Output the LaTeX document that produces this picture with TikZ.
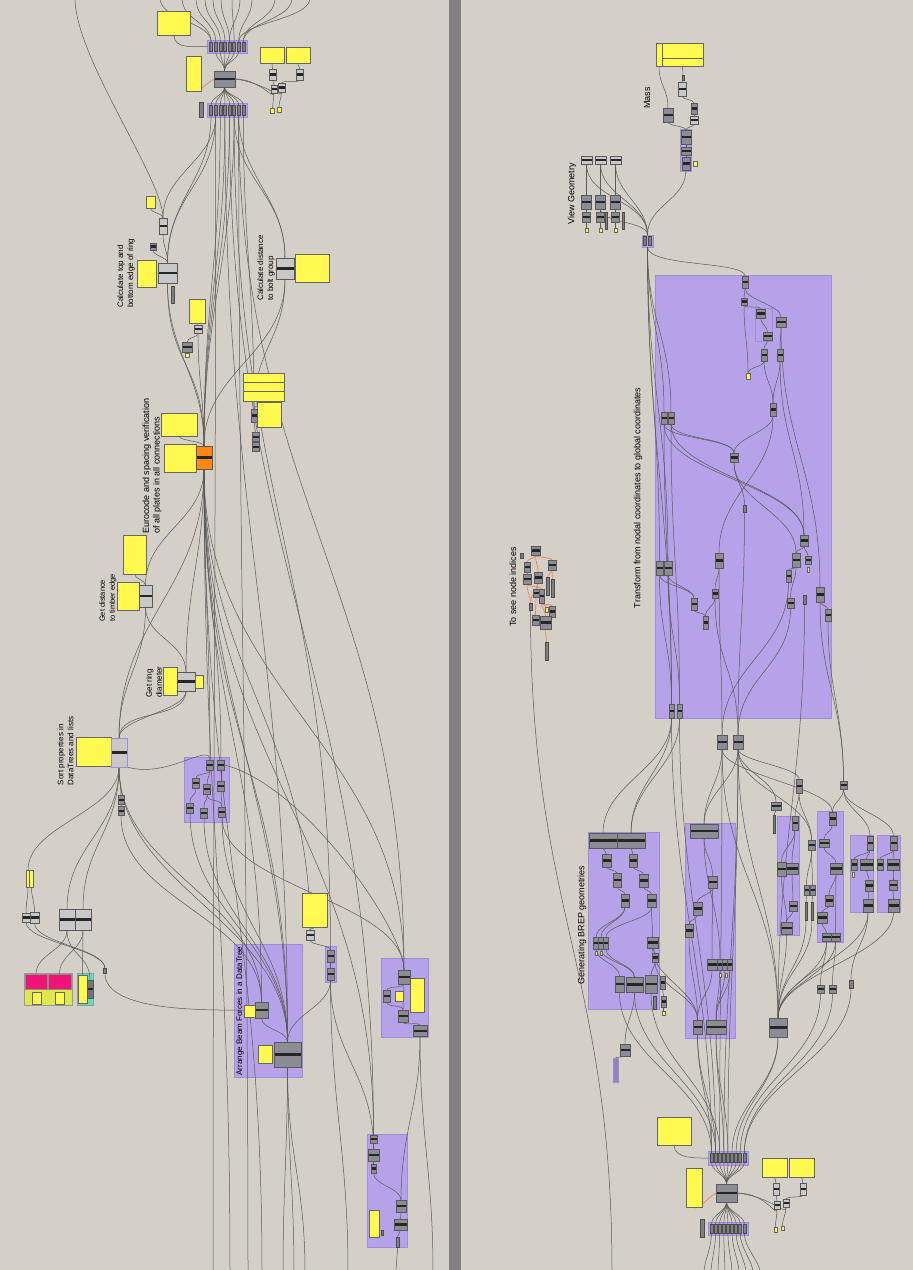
\documentclass[tikz,border=0pt]{standalone}
\usepackage{fontspec}
\setmainfont{Liberation Sans}
\definecolor{canvasbg}{RGB}{212,208,200}
\definecolor{divider}{RGB}{128,128,128}
\definecolor{grpfill}{RGB}{182,162,232}
\definecolor{grpline}{RGB}{160,140,215}
\definecolor{panelfill}{RGB}{255,249,80}
\definecolor{compfill}{RGB}{140,140,148}
\definecolor{lcompfill}{RGB}{200,200,200}
\definecolor{orangefill}{RGB}{255,135,20}
\definecolor{pinkfill}{RGB}{240,20,120}
\definecolor{limefill}{RGB}{222,232,76}
\definecolor{cyanfill}{RGB}{90,222,208}
\definecolor{orangewire}{RGB}{240,120,80}
\pgfdeclarelayer{back}
\pgfdeclarelayer{wires}
\pgfsetlayers{back,wires,main}
\tikzset{
  sz/.style args={#1/#2}{minimum width=#1pt, minimum height=#2pt},
  base/.style={shape=rectangle, inner sep=0pt, outer sep=0pt, line width=.5pt},
  comp/.style={base, draw=black!65, fill=compfill, path picture={\fill[black!85] ([yshift=-1.1pt]path picture bounding box.west) rectangle ([yshift=1.1pt]path picture bounding box.east);}},
  lcomp/.style={comp, fill=lcompfill},
  stub/.style={base, draw=black!70, fill=black!50},
  panel/.style={base, draw=black!60, fill=panelfill, line width=.6pt},
  grp/.style={base, draw=grpline, fill=grpfill},
  lbl/.style={rotate=90, align=left, inner sep=0pt, font=\fontsize{8}{10}\selectfont},
  wire/.style={draw=black!65, line width=.5pt},
  owire/.style={draw=orangewire, line width=.6pt}
}
\begin{document}
\begin{tikzpicture}[x=1pt, y=-1pt]
\useasboundingbox (0,0) rectangle (913,1270);
\begin{pgfonlayer}{back}
\fill[canvasbg] (0,0) rectangle (913,1270);
\fill[divider] (449,0) rectangle (461,1270);
% groups
\node[grp, sz=40/13] (stripA) at (227.5,46.5) {};
\node[grp, sz=40/14] (stripB) at (227.5,110) {};
\node[grp, sz=45/65] (grpG1) at (206.5,789.5) {};
\node[base, draw=black!40, fill=limefill, sz=48/32] (grpPink) at (48,989) {};
\node[base, draw=black!40, fill=cyanfill, sz=16/32] (grpCyan) at (85,989) {};
\node[grp, sz=68/133] (grpArr) at (268,1010.5) {};
\node[grp, sz=11/36] (grpMid) at (330.5,964) {};
\node[grp, sz=47/79] (grpG3) at (404.5,997.5) {};
\node[grp, sz=40/113] (grpG4) at (387,1190.5) {};
\node[grp, sz=11/42] (grpMass) at (685.5,150) {};
\node[grp, sz=11/12] (cView) at (647.5,241) {};
\node[grp, sz=176/443] (grpT) at (743,496.5) {};
\node[grp, sz=17/33] (grpTs) at (763.5,324.5) {};
\node[grp, sz=71/177] (grpBrep) at (623.5,920.5) {};
\node[grp, sz=50/215] (grpQ) at (710,930.5) {};
\node[grp, sz=22/119] (grpR) at (788,875.5) {};
\node[grp, sz=26/131] (grpS) at (830,876.5) {};
\node[grp, sz=23/77] (grpU) at (861.5,873.5) {};
\node[grp, sz=23/77] (grpW) at (888.5,873.5) {};
\node[grp, sz=40/14] (stripC) at (728,1158) {};
\node[grp, sz=40/13] (stripD) at (728,1228.5) {};
\end{pgfonlayer}

% top cluster
\node[panel, sz=33/24] (pTopA) at (174,23.5) {};
\foreach \i in {1,...,8} {
  \node[stub, sz=3/9] (a\i) at ({206.5+4.6*\i},46.5) {};
  \node[stub, sz=3/10] (b\i) at ({206.5+4.6*\i},110) {};
}
\node[panel, sz=15/35] (pTopB) at (193.5,73.5) {};
\node[comp, sz=21/16] (cMerge) at (224.5,79) {};
\node[stub, sz=4/15] (sTopC) at (201,109.5) {};
\node[panel, sz=24/16] (pTopC) at (272,55) {};
\node[panel, sz=24/16] (pTopD) at (298,55) {};
\node[lcomp, sz=7/11] (kA) at (272.5,74.5) {};
\node[lcomp, sz=7/11] (kB) at (299.5,74.5) {};
\node[lcomp, sz=6/8] (kC) at (274,89) {};
\node[lcomp, sz=7/9] (kD) at (281.5,87.5) {};
\node[panel, sz=4/5] (yA) at (272.5,110.5) {};
\node[panel, sz=4/5] (yB) at (279,109.5) {};

% ring edges
\node[panel, sz=9/12] (pRingA) at (150.5,202) {};
\node[lcomp, sz=8/16] (cRingA) at (163,226) {};
\node[comp, sz=6/7] (cRingB) at (153,246.5) {};
\node[panel, sz=19/27] (pRing) at (146.5,273.5) {};
\node[lcomp, sz=19/20] (cRing) at (167.5,273) {};
\node[stub, sz=3/17] (sRing) at (173,294.5) {};
\node[lbl] (lblRing) at (126,273) {Calculate top and\\bottom edge of ring};
\node[panel, sz=16/24] (pHole) at (197,311) {};
\node[lcomp, sz=8/8] (cHoleA) at (198,329) {};
\node[comp, sz=10/10] (cHoleB) at (187,347) {};
\node[panel, sz=4/4] (yHole) at (187,355) {};

% bolt group
\node[lcomp, sz=18/21] (cBolt) at (285,268.5) {};
\node[panel, sz=34/28] (pBolt) at (312,268) {};
\node[lbl] (lblBolt) at (266,268) {Calculate distance\\to bolt group};

% eurocode check
\node[panel, sz=41/9] (pStackA) at (263.5,377.5) {};
\node[panel, sz=41/9] (pStackB) at (263.5,386.5) {};
\node[panel, sz=41/10] (pStackC) at (263.5,396) {};
\node[panel, sz=24/25] (pLim) at (269,414.5) {};
\node[comp, sz=6/13] (cLimA) at (254,415.5) {};
\node[comp, sz=7/9] (cLimB) at (255.5,437) {};
\node[comp, sz=7/9] (cLimC) at (255.5,447) {};
\node[panel, sz=36/23] (pEuA) at (179,424.5) {};
\node[panel, sz=32/28] (pEuB) at (180,458) {};
\node[comp, fill=orangefill, sz=16/23] (cEu) at (204,457.5) {};
\node[lbl, font=\fontsize{9}{10.5}\selectfont] (lblEu) at (152,466) {Eurocode and spacing verification\\of all plates in all connections};

% timber edge, ring diameter, sorting
\node[panel, sz=23/39] (pEdgeA) at (134.5,554.5) {};
\node[panel, sz=22/28] (pEdge) at (128,596) {};
\node[lcomp, sz=13/22] (cEdge) at (145.5,596) {};
\node[lbl, font=\fontsize{7.5}{10}\selectfont] (lblEdge) at (108,598) {Get distance\\to timber edge};
\node[panel, sz=14/28] (pDia) at (170,681) {};
\node[lcomp, sz=18/19] (cDia) at (186,681.5) {};
\node[panel, sz=8/13] (pDiaB) at (199,681.5) {};
\node[lbl] (lblDia) at (154,682) {Get ring\\diameter};
\node[panel, sz=35/29] (pSort) at (93.5,751.5) {};
\node[lcomp, draw=grpline, line width=1pt, sz=16/29] (cSort) at (119,752.5) {};
\node[lbl] (lblSort) at (65.5,751) {Sort properties in\\DataTrees and lists};
\node[comp, sz=6/9] (cSortA) at (121,800) {};
\node[comp, sz=6/9] (cSortB) at (121,811) {};
\foreach \n/\x/\y in {g1a/210/765, g1b/221/765, g1c/196/783, g1d/207/789, g1e/221/786, g1f/190/808, g1g/204/813, g1h/222/812}
  \node[comp, sz=7/10] (\n) at (\x,\y) {};

% bottom left
\node[panel, sz=3.5/17] (pBLa) at (28,878.5) {};
\node[panel, sz=3.5/17] (pBLb) at (31.5,878.5) {};
\node[lcomp, sz=8/9] (cBLa) at (26,917.5) {};
\node[lcomp, sz=9/11] (cBLb) at (34.5,917.5) {};
\node[lcomp, sz=16/21] (cBLc) at (67,919.5) {};
\node[lcomp, sz=16/21] (cBLd) at (83,919.5) {};
\node[base, draw=black!45, fill=pinkfill, sz=22/15] (pkA) at (36,981.5) {};
\node[base, draw=black!45, fill=pinkfill, sz=23/15] (pkB) at (59.5,981.5) {};
\node[panel, sz=9/12] (yPkA) at (36.5,998) {};
\node[panel, sz=9/12] (yPkB) at (59.5,998) {};
\node[panel, sz=9/28] (yCy) at (82.5,989) {};
\node[comp, fill=black!55, sz=6/18] (cCy) at (90,989) {};
\node[stub, sz=3/5] (stubBL) at (105,971) {};

% beam forces
\node[lbl] (lblArr) at (240,1011) {Arrange Beam Forces in a DataTree};
\node[panel, sz=11/12] (pArrA) at (249.5,1011) {};
\node[comp, sz=13/16] (cArrA) at (261.5,1010) {};
\node[panel, sz=14/18] (pArrB) at (265,1054) {};
\node[comp, sz=27/25] (cArr) at (287.5,1054.5) {};
\node[panel, sz=25/34] (pMid) at (314.5,910) {};
\node[lcomp, sz=8/10] (cMidA) at (310,935) {};
\node[comp, sz=7/12] (cMidB) at (330.5,956) {};
\node[comp, sz=7/12] (cMidC) at (330.5,974) {};
\node[panel, sz=14/34] (pG3) at (417,995) {};
\node[comp, sz=12/14] (g3a) at (404,977) {};
\node[comp, sz=7/12] (g3b) at (387,996) {};
\node[panel, sz=8/10] (yG3) at (399,996) {};
\node[comp, sz=10/12] (g3d) at (403,1016) {};
\node[comp, sz=14/11] (g3e) at (420,1031) {};
\node[comp, sz=7/8] (g4a) at (373.5,1139) {};
\node[comp, sz=11/12] (g4b) at (373.5,1155) {};
\node[comp, sz=5/9] (g4c) at (373.5,1168.5) {};
\node[comp, sz=10/12] (g4d) at (401,1206) {};
\node[comp, sz=13/11] (g4e) at (400.5,1224.5) {};
\node[panel, sz=10/27] (pG4) at (374,1223.5) {};
\node[stub, sz=2/5] (g4f) at (382,1232.5) {};
\node[stub, sz=3/10] (g4g) at (397.5,1242) {};

% mass and view
\node[panel, sz=6/23] (pMassL) at (659,54.5) {};
\node[panel, sz=41/15] (pMassT) at (682.5,50.5) {};
\node[panel, sz=41/8] (pMassB) at (682.5,62) {};
\node[lbl, font=\fontsize{9}{11}\selectfont] (lblMass) at (647,98) {Mass};
\node[comp, sz=10/14] (cMassA) at (668,115) {};
\node[stub, sz=2/5] (cMassT) at (683,77.5) {};
\node[lcomp, sz=8/14] (cMassB) at (682,89) {};
\node[comp, sz=6/11] (cMassC) at (694,108.5) {};
\node[lcomp, sz=8/8] (cMassD) at (694,120) {};
\node[comp, sz=10/14] (mA) at (686,137) {};
\node[comp, sz=10/8] (mB) at (686,151) {};
\node[comp, sz=8/13] (mC) at (686,163.5) {};
\node[panel, sz=4/5] (yMass) at (695,163.5) {};
\node[lbl, font=\fontsize{9}{11}\selectfont] (lblView) at (572,194) {View Geometry};
\foreach \i/\x in {1/586.5,2/600.5,3/615.5} {
  \node[lcomp, sz=11/8] (vTop\i) at (\x,160) {};
  \node[comp, sz=10/14] (vMid\i) at (\x,202) {};
  \node[comp, sz=8/10] (vBot\i) at (\x,217) {};
  \node[panel, sz=3/4] (vY\i) at (\x,230.5) {};
}
\node[stub, sz=2/17] (vS1) at (606,220.5) {};
\node[stub, sz=2/17] (vS2) at (623,220.5) {};
\node[stub, sz=3/9] (cViewA) at (645,241) {};
\node[stub, sz=3/9] (cViewB) at (650,241) {};

% transform group
\node[lbl, font=\fontsize{9}{11}\selectfont] (lblT) at (638,498) {Transform from nodal coordinates to global coordinates};
\foreach \n/\x/\y/\w/\h in {t1/745/282/6/12, t2/744/301.5/6/7, t3/760.5/313.5/9/9, t4/781/322/10/10, t5/767.5/336/9/8, t6/764/355/6/12, t7/780/355/6/12, t8/773/409.5/6/13, t9/664/418/6/12, t10/671/418/6/12, t11/734/457.5/8/9, t13/804/540.5/8/11, t14/659.5/568/7/14, t15/668/568/8/14, t16/719/560.5/8/15, t17/796/560/8/14, t18/808/560/6/8, t19/788.5/576/5/12, t20/715/593.5/6/9, t21/694/604/6/12, t22/820/594.5/8/15, t23/790.5/603/7/10, t25/705.5/622.5/5/13, t26/828/615/6/12, t27/671.5/711/5/14, t28/679.5/711/5/14, t29/722/742/10/14, t30/738/742/10/14}
  \node[comp, sz=\w/\h] (\n) at (\x,\y) {};
\node[panel, sz=4/6] (tY) at (748,376) {};
\node[panel, sz=2/5] (tY2) at (808,569.5) {};
\node[stub, sz=3/7] (t12) at (744.5,508.5) {};
\node[stub, sz=3/9] (t24) at (804.5,599.5) {};

% node indices
\node[lbl, font=\fontsize{9}{11}\selectfont] (lblIdx) at (513,587) {To see node indices};
\foreach \n/\x/\y/\w/\h in {i1/535.5/550.5/9/9, i2/527/567/6/10, i3/552/565/8/10, i4/527/579/8/10, i5/538/577.5/8/11, i6/536/593/6/8, i7/541.5/596/5/14, i11/552/611.5/6/11, i12/535.5/620/7/10, i13/545.5/622.5/11/13}
  \node[comp, sz=\w/\h] (\n) at (\x,\y) {};
\foreach \n/\x/\y/\h in {i8/547.5/586/18, i9/552.5/588/18, i10/530.5/606.5/7, i14/546.5/651/18, i15/522/555.5/5}
  \node[stub, sz=3/\h] (\n) at (\x,\y) {};
\node[panel, sz=3/5] (iY) at (546.5,609.5) {};

% brep geometries
\node[lbl, font=\fontsize{9}{11}\selectfont] (lblBrep) at (582,925) {Generating BREP geometries};
\foreach \n/\x/\y/\w/\h in {br1/603/840.5/28/15, br2/631/840.5/28/15, br3/606.5/860.5/9/13, br4/633/860.5/8/13, br5/617/880/8/14, br6/643.5/880.5/9/13, br7/625/900.5/8/13, br8/651.5/900.5/9/13, br9/596/943/5/12, br10/601/943/5/12, br11/606/943/5/12, br12/652.5/942.5/11/11, br13/655/957.5/6/9, br14/619.5/984/9/16, br15/634.5/984.5/17/15, br16/651/984/12/18, br17/662.5/982.5/5/13, br18/663.5/1001.5/5/11, brX/625/1050/10/12}
  \node[comp, sz=\w/\h] (\n) at (\x,\y) {};
\node[panel, sz=2/4] (brY1) at (596,953) {};
\node[panel, sz=2/4] (brY2) at (601,953) {};
\node[panel, sz=3/4] (brY3) at (663.5,1013) {};
\node[stub, sz=3/13] (br19) at (654.5,1002.5) {};
\node[base, draw=grpline, fill=grpfill!80!black, sz=5/24] (brS) at (615.5,1070) {};
\foreach \n/\x/\y/\w/\h in {q1/704/831/28/14, q2/712.5/882/9/12, q3/697.5/908.5/9/13, q4/689/930.5/8/13, q5/712/964.5/10/11, q6/720/964.5/5/11, q7/725/964.5/5/11, q8/730/964.5/5/11, q9/697.5/1027/9/14, q10/716/1027/20/14}
  \node[comp, sz=\w/\h] (\n) at (\x,\y) {};
\node[panel, sz=2/4] (qY1) at (720,975) {};
\node[panel, sz=2/4] (qY2) at (726,975) {};

% right groups
\foreach \n/\x/\y/\w/\h in {r1/795/823/6/14, r2/781.5/869/9/14, r3/792/868.5/12/11, r4/793/906/8/10, r5/786.5/928/11/12, r6/799/786/6/14, r7/776/806/10/8, r9/811.5/845/7/10, r10/806.5/890/5/10, r11/812.5/890/5/10, s1/832.5/818.5/7/13, s2/824/843/10/8, s3/836/868.5/12/11, s4/829/900.5/8/11, s5/822/917.5/10/11, s6/826.5/937/9/8, s7/835.5/937/9/8, u1/870/843/6/14, u2/854/864.5/6/11, u3/866.5/864.5/13/11, u4/869/885.5/8/11, u5/868/905.5/10/13, w1/893.5/843/7/14, w2/880/864.5/6/11, w3/893/864.5/12/11, w4/893/885/8/10, w5/893.5/905.5/11/13, r14/843.5/785/7/8, r15/820.5/989/7/8, r16/832.5/989/7/8, cBig/778/1027.5/18/19}
  \node[comp, sz=\w/\h] (\n) at (\x,\y) {};
\node[stub, sz=2/18] (r8) at (774,824) {};
\node[stub, sz=2/18] (r12) at (806,911) {};
\node[stub, sz=2/18] (r13) at (812,911) {};
\node[stub, sz=4/8] (r17) at (851,984) {};
\node[panel, sz=2/5] (uY) at (853,874.5) {};

% bottom right cluster
\node[panel, sz=34/28] (pBR1) at (674,1131) {};
\foreach \i in {1,...,9} {
  \node[stub, sz=3/9] (c\i) at ({707.4+4.1*\i},1158) {};
  \node[stub, sz=3/9] (d\i) at ({707.4+4.1*\i},1228.5) {};
}
\node[panel, sz=16/39] (pBR2) at (694,1187.5) {};
\node[comp, sz=21/18] (cBR) at (726.5,1193) {};
\node[stub, sz=4/18] (sBR) at (702,1228) {};
\node[panel, sz=25/19] (pBR3) at (774.5,1167.5) {};
\node[panel, sz=25/19] (pBR4) at (801.5,1167.5) {};
\node[lcomp, sz=6/12] (kBR1) at (776,1189) {};
\node[lcomp, sz=6/12] (kBR2) at (803,1189) {};
\node[lcomp, sz=6/8] (kBR3) at (777,1205) {};
\node[lcomp, sz=6/8] (kBR4) at (786,1203) {};
\node[panel, sz=3/5] (yBR1) at (775.5,1229.5) {};
\node[panel, sz=3/4] (yBR2) at (782.5,1228) {};

\begin{pgfonlayer}{wires}
% wires leaving the top edge
\foreach \i/\x [count=\n] in {1/160,1/182,2/196,3/205,4/213,5/221,5/240,6/232,7/252,7/310,8/275,8/292} {
  \coordinate (tp\n) at (\x,-2);
  \draw[wire] (tp\n) .. controls +(0,22) and +(0,-20) .. (a\i.north);
}
\coordinate (tpX) at (75,-2);
\draw[wire] (tpX) .. controls +(0,60) and +(0,-40) .. (cRingA.north);
\foreach \i in {1,...,8}
  \draw[wire] (cMerge.south) .. controls +(0,8) and +(0,-8) .. (b\i.north);
\foreach \i in {1,...,9} {
  \draw[wire] (c\i.south) .. controls +(0,9) and +(0,-9) .. (cBR.north);
  \draw[wire] (cBR.south) .. controls +(0,9) and +(0,-9) .. (d\i.north);
  \coordinate (ed\i) at ({697+7*\i},1272);
  \draw[wire] (d\i.south) .. controls +(0,15) and +(0,-10) .. (ed\i);
}
% wires leaving the bottom edge
\foreach \wa/\x/\k in {b2/213/450, cEu/230/350, b7/248/450, cEu/262/350, cArr/283/80, cArr/294/80, cArr/305/90, cMidC/348/120, g4g/396/8, g3e/433/100, i10/612/300} {
  \coordinate (bt-\wa-\x) at (\x,1272);
  \draw[wire] (\wa.south) .. controls +(0,\k) and +(0,-\k) .. (bt-\wa-\x);
}
% left canvas
\foreach \wa/\wb/\k in {a2/cMerge/9, a3/cMerge/9, a4/cMerge/9, a5/cMerge/9, a6/cMerge/9, a7/cMerge/9,
  pTopC/kA/4, pTopD/kB/4, kA/kC/3, kB/kD/3, kC/yA/7, kD/yB/7,
  b1/cRing/65, b2/cRing/70, b2/cRingA/45, pRingA/cRingA/5, cRingA/cRing/14, cRingB/cRing/6,
  b3/cEu/150, b4/cEu/150, b5/cEu/145, b6/cEu/140, b6/cBolt/65, b7/cBolt/60, b8/cLimA/130,
  cRing/cEu/70, cRing/cEu/85, pHole/cHoleA/2, cHoleA/cHoleB/5, cHoleB/yHole/1, cHoleA/cEu/50,
  cBolt/cLimA/60, cBolt/cEu/75, pStackC/cLimA/4, cLimA/cLimB/5, cLimB/cLimC/1, pEuA/cEu/5,
  cEu/cEdge/52, cEu/cDia/90, cEu/cSort/120, cEu/g1a/130, cEu/g1b/130, cEu/cArrA/240, cEu/cArr/230, cEu/cArr/270,
  cEu/cMidA/200, cEu/g3a/225, cEu/g4a/300, b4/cArr/400, b5/g4a/450, b6/cMidB/380, b7/g3a/380,
  cEdge/cDia/30, cEdge/cSort/60, pEdgeA/cEdge/5, cDia/cSort/20, cDia/cSort/30, cSort/cSortA/12, cSortA/cSortB/2,
  cSort/cBLc/64, cSort/cBLd/64, cSort/pBLa/45, cSort/cArrA/105, cSort/cArr/120, cSortB/cArrA/85,
  pBLa/cBLa/12, pBLb/cBLb/12, cBLc/pkA/20, cBLd/pkB/20, cBLd/yCy/20, cBLc/cCy/25, cBLa/stubBL/20, cBLb/stubBL/20,
  cArrA/cArr/12, g1a/g1c/5, g1a/g1d/7, g1b/g1e/6, g1c/g1f/10, g1d/g1g/10, g1e/g1h/12, g1d/g1h/10,
  g1f/cArr/100, g1g/cArr/100, g1h/cArr/100, g1h/g3a/70,
  pMid/cMidA/2, cMidA/cMidB/5, cMidB/cMidC/3, cMidC/cArr/28, cMidC/g4b/75,
  g3a/g3b/4, g3a/g3d/10, g3b/g3d/6, g3d/g3e/4, g3e/g4d/70,
  g4a/g4b/3, g4b/g4c/1, g4c/g4d/12, g4d/g4e/3, g4e/g4g/3}
  \draw[wire] (\wa.south) .. controls +(0,\k) and +(0,-\k) .. (\wb.north);
\draw[wire] (pTopA.south) .. controls +(0,14) and +(-12,0) .. (stripA.west);
\draw[owire] (pTopB.south) .. controls +(4,4) and +(-8,4) .. (cMerge.west);
\draw[wire] (cMerge.east) .. controls +(25,0) and +(0,8) .. (kC.south);
\draw[wire] (cMerge.east) .. controls +(30,4) and +(0,8) .. (kD.south);
\draw[wire] (cSort.south east) .. controls +(40,12) and +(0,-18) .. (g1a.north);
\draw[wire] (stubBL.south) .. controls +(0,40) and +(-40,0) .. (cArrA.west);
\draw[wire] (g1b.east) .. controls +(80,20) and +(0,-40) .. (g3a.north);
% right canvas
\foreach \wa/\wb/\k in {pMassL/cMassA/20, pMassB/cMassT/5, cMassT/cMassB/1, cMassB/cMassC/4, cMassC/cMassD/1, cMassA/mA/4, cMassD/mA/3, mA/mB/1, mB/mC/1, mC/cView/30,
  vTop1/vMid1/14, vTop2/vMid2/14, vTop3/vMid3/14, vTop1/cView/35, vTop2/cView/32, vTop3/cView/30, vMid2/cView/14,
  vMid1/vBot1/1, vMid2/vBot2/1, vMid3/vBot3/1, vBot1/vY1/3, vBot2/vY2/3, vBot3/vY3/3,
  cView/t9/75, cView/t10/75, cView/t14/140, cView/t15/140, cView/t27/200,
  t1/t2/4, t2/tY/30, t2/t3/4, t1/t4/12, t3/t5/5, t5/t6/4, t4/t7/10, t6/tY/6, t6/t8/18, t7/t8/18, t7/t13/80,
  t8/t11/15, t9/t11/15, t10/t11/15, t9/t13/50, t10/t13/50, t8/t16/60, t11/t12/20, t11/t17/40, t13/t17/4, t13/t18/4,
  t14/t21/10, t15/t21/10, t16/t20/9, t17/t19/2, t17/t23/13, t4/t22/115, t22/t26/3, t21/t25/3, t20/t25/8,
  t9/t27/130, t10/t28/130, t14/t27/60, t15/t28/60, t16/t29/75, t20/t30/65, t23/t30/60, t19/t29/70, t12/t30/100,
  t22/r14/80, t26/r14/70, t24/cBig/180,
  t27/br1/50, t28/br2/50, t27/br2/50, t29/q1/30, t30/q1/30, t27/c1/180, t28/c2/180,
  t29/cBig/120, t30/cBig/120, t29/c3/180, t30/c4/180, t30/c5/180,
  t30/r6/12, t30/r7/22, t30/r9/40, t29/s1/25,
  r14/s1/10, r14/u1/20, r14/w1/20, r6/r1/10, r6/r9/20, r7/r8/2,
  r1/r2/14, r1/r3/14, r2/r5/20, r3/r4/12, r4/r5/5, r9/r10/15, r9/r11/15, r10/r12/3, r11/r13/3,
  s1/s2/6, s2/s3/7, s3/s4/9, s4/s5/2, s5/s6/4, s3/s7/25,
  u1/u2/4, u1/u3/4, u3/u4/4, u4/u5/4, w1/w2/4, w1/w3/4, w3/w4/4, w4/w5/4,
  r5/cBig/38, s6/cBig/34, s7/cBig/34, u5/cBig/45, w5/cBig/45, r12/cBig/45, r13/cBig/45,
  s6/r15/20, s7/r16/20, u5/r17/30, r15/c8/70, r16/c9/70, r17/c9/70, cBig/c6/50, cBig/c7/50,
  br1/br3/3, br2/br4/3, br3/br5/3, br4/br6/3, br5/br7/3, br6/br8/3, br7/br9/13, br7/br10/13, br8/br11/13, br8/br12/13,
  br12/br13/2, br13/br16/5, br9/br14/12, br10/br15/12, br11/br15/12, br12/q9/30, br13/q9/25,
  br14/c1/70, br15/c2/70, br16/c3/70, br17/br18/3, br18/brY3/2, br15/brX/22, brX/brS/1,
  q1/q2/17, q2/q3/6, q3/q4/4, q2/q5/30, q1/q6/50, q4/q9/35, q5/q9/22, q6/q10/22, q7/q10/22, q8/q10/22,
  q9/c1/50, q9/c2/50, q10/c4/50, q10/c5/50,
  pBR3/kBR1/3, pBR4/kBR2/3, kBR1/kBR3/3, kBR2/kBR4/3, kBR3/yBR1/8, kBR4/yBR2/8}
  \draw[wire] (\wa.south) .. controls +(0,\k) and +(0,-\k) .. (\wb.north);
\draw[wire] (cView.south) .. controls +(0,20) and +(0,-15) .. (t1.north);
\draw[wire] (pBR1.south) .. controls +(0,14) and +(-12,0) .. (stripC.west);
\draw[owire] (pBR2.south) .. controls +(3,5) and +(-8,4) .. (cBR.west);
\draw[wire] (cBR.east) .. controls +(30,0) and +(0,10) .. (kBR3.south);
\draw[wire] (cBR.east) .. controls +(36,4) and +(0,10) .. (kBR4.south);
\foreach \wa/\wb/\k in {i1/i2/3, i1/i3/3, i1/i5/8, i2/i4/1, i3/i8/3, i3/i9/4, i5/i6/3, i4/i7/3, i5/i10/10, i4/i10/9, i7/iY/2, i7/i11/2, i7/i13/6, i13/i14/6, i6/i12/8}
  \draw[owire] (\wa.south) .. controls +(0,\k) and +(0,-\k) .. (\wb.north);
\end{pgfonlayer}
\end{tikzpicture}
\end{document}
